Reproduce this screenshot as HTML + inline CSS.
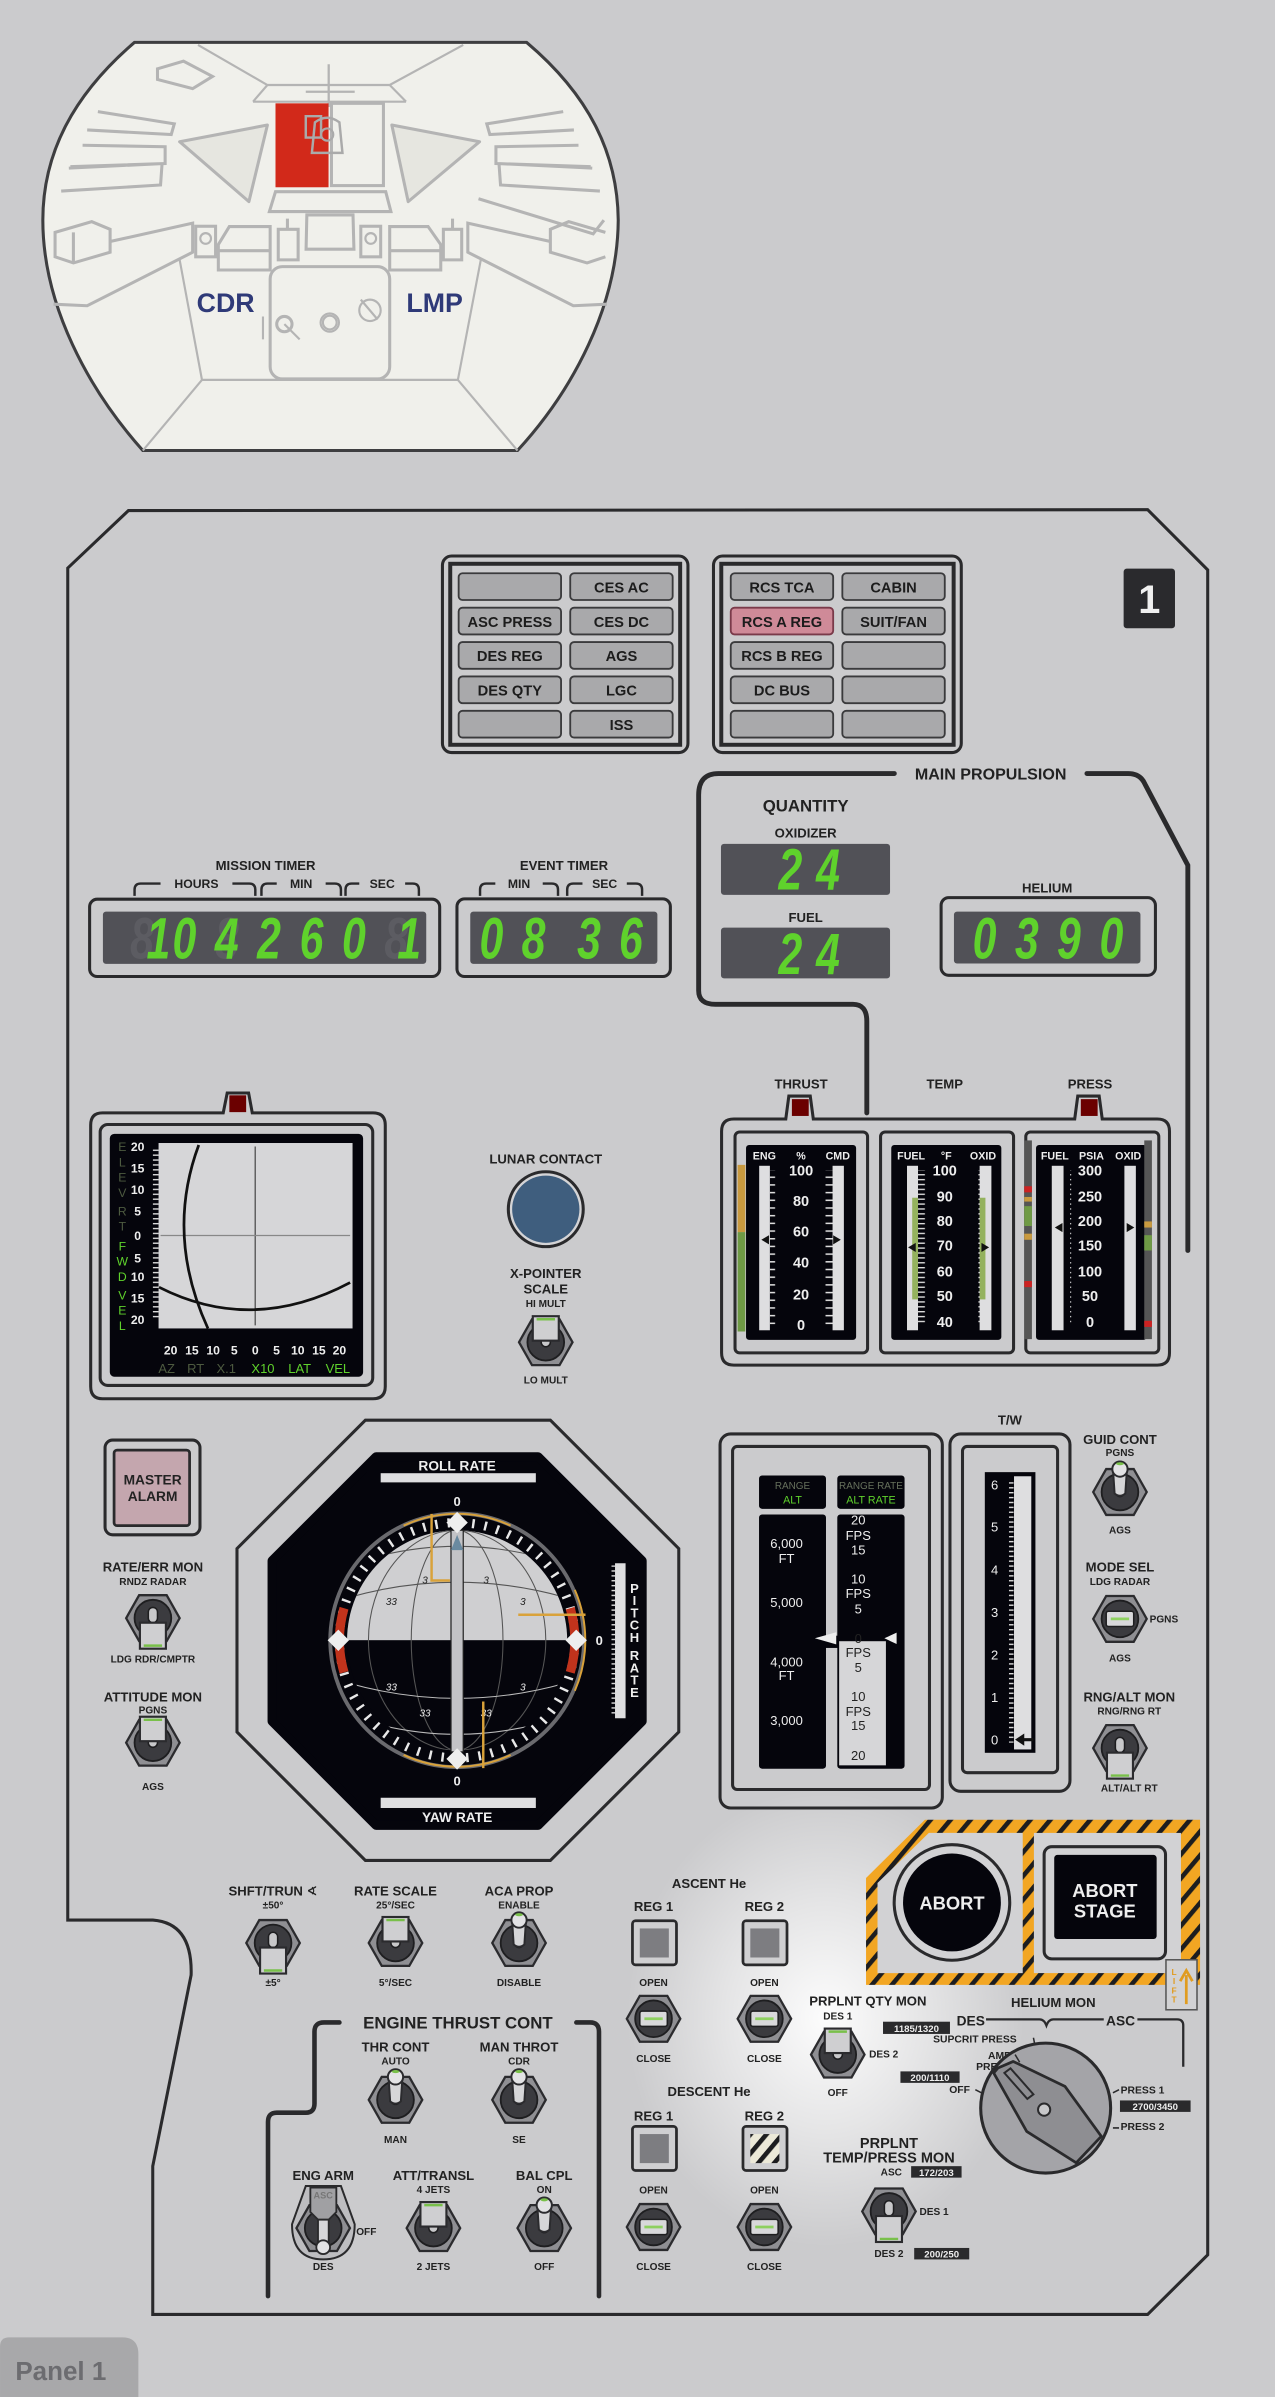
<!DOCTYPE html>
<html><head><meta charset="utf-8"><style>
html,body{margin:0;padding:0;background:#cbcbcd;}
svg{display:block;}
text{font-family:"Liberation Sans","DejaVu Sans",sans-serif;font-weight:bold;fill:#222;}
.l{font-size:8.6px;text-anchor:middle;}
.s{font-size:6.6px;text-anchor:middle;}
.b{font-size:9.6px;text-anchor:middle;fill:#1c1c1c;}
.w{fill:#eee;font-weight:bold;text-anchor:middle;}
.dg{font-family:"DejaVu Sans Mono","Liberation Mono",monospace;font-weight:normal;font-style:italic;}
.tag{font-size:6.3px;fill:#eee;text-anchor:middle;}
</style></head><body>
<svg width="1275" height="2397" viewBox="0 0 834 1568" xmlns="http://www.w3.org/2000/svg">
<defs>
 <radialGradient id="glow" cx="0.5" cy="0.5" r="0.5">
  <stop offset="0" stop-color="#ffffff" stop-opacity="0.95"/>
  <stop offset="0.5" stop-color="#ffffff" stop-opacity="0.5"/>
  <stop offset="1" stop-color="#ffffff" stop-opacity="0"/>
 </radialGradient>
 <pattern id="haz" width="10" height="10" patternUnits="userSpaceOnUse" patternTransform="rotate(40)">
  <rect width="10" height="10" fill="#f2a623"/><rect width="3" height="10" fill="#1d1d1f"/>
 </pattern>
 <pattern id="tk5" width="20" height="5.03" patternUnits="userSpaceOnUse" y="0">
  <rect x="0" y="0" width="7" height="1" fill="#ddd"/>
 </pattern>
 <pattern id="tkw" width="20" height="3.2" patternUnits="userSpaceOnUse">
  <rect x="0" y="0" width="5" height="0.9" fill="#ddd"/>
 </pattern>
 <pattern id="tkv" width="4" height="20" patternUnits="userSpaceOnUse">
  <rect x="0" y="0" width="0.9" height="5" fill="#eee"/>
 </pattern>
 <pattern id="stripe" width="8" height="8" patternUnits="userSpaceOnUse" patternTransform="rotate(40)">
  <rect width="8" height="8" fill="#ece9d8"/><rect width="3" height="8" fill="#1d1d1f"/>
 </pattern>
 <clipPath id="ball"><circle cx="299" cy="1073" r="72"/></clipPath>
 <g id="hex">
  <polygon points="-17.5,0 -9,-15 9,-15 17.5,0 9,15 -9,15" fill="#8f8f93" stroke="#2b2b2e" stroke-width="1.5"/>
  <circle r="12" fill="#3b3b3f" stroke="#1e1e20" stroke-width="1.2"/>
  <rect x="-3" y="-7" width="6" height="10" rx="3" fill="#c8c8ca" stroke="#1e1e20" stroke-width="1"/>
 </g>
 <g id="padU"><use href="#hex"/>
  <rect x="-8.5" y="-17" width="17" height="16" fill="#cfcfd1" stroke="#2b2b2e" stroke-width="1.4"/>
  <line x1="-6" y1="-15" x2="6" y2="-15" stroke="#79c04a" stroke-width="1.6"/></g>
 <g id="padD"><use href="#hex"/>
  <rect x="-8.5" y="3" width="17" height="17" fill="#cfcfd1" stroke="#2b2b2e" stroke-width="1.4"/>
  <line x1="-6" y1="18" x2="6" y2="18" stroke="#79c04a" stroke-width="1.6"/></g>
 <g id="bat"><use href="#hex"/>
  <path d="M-4.5,-14 L-3.5,1 Q0,4 3.5,1 L4.5,-14 Z" fill="#d6d6d8" stroke="#2b2b2e" stroke-width="1.3"/>
  <circle cy="-15" r="5" fill="#e3e3e5" stroke="#2b2b2e" stroke-width="1.3"/>
  <ellipse cy="-18.5" rx="2.5" ry="1" fill="#79c04a"/></g>
 <g id="rot">
  <polygon points="-17.5,0 -9,-15 9,-15 17.5,0 9,15 -9,15" fill="#8f8f93" stroke="#2b2b2e" stroke-width="1.5"/>
  <circle r="12" fill="#3b3b3f" stroke="#1e1e20" stroke-width="1.2"/>
  <rect x="-9" y="-5" width="18" height="10" rx="1.5" fill="#d8d8da" stroke="#1e1e20" stroke-width="1"/>
  <line x1="-6" y1="0" x2="6" y2="0" stroke="#8ed060" stroke-width="1.8"/></g>
</defs>

<rect width="834" height="1568" fill="#cbcbcd"/>

<!-- COCKPIT ILLUSTRATION -->
<path d="M88,27.7 L344.4,27.7 C385,62 404,100 404.4,144 C404,200 375,255 338.5,294.7 L93.4,294.7 C58,255 28,200 28,144 C28,100 48,62 88,27.7 Z" fill="#f0f0eb" stroke="#3e3e40" stroke-width="2"/>
<g fill="none" stroke="#b4b4b4" stroke-width="1.4">
 <path d="M129.5,29.4 L174.9,55.6 L254.9,55.6 L303,29.4"/>
 <path d="M165.5,66.5 L174.9,55.6 M265.6,66.5 L254.9,55.6 M165.5,66.5 L265.6,66.5"/>
 <path d="M117.5,170 L132.1,248.5 L299.5,248.5 L314.5,170"/>
 <path d="M132.1,248.5 L93.4,294.7 M299.5,248.5 L338.5,294.7"/>
 <path d="M117.5,92.7 L174.9,81.8 L162.8,131.9 Z" fill="#e6e6e0" stroke-width="2" stroke-linejoin="round"/>
 <path d="M256.3,81.8 L313.7,92.7 L267,131.9 Z" fill="#e6e6e0" stroke-width="2" stroke-linejoin="round"/>
 <rect x="176.7" y="174.4" width="78.2" height="73.5" rx="8" stroke-width="2"/>
 <path d="M180.2,125.4 L252.3,125.4 L255.7,138.4 L176.2,138.4 Z" stroke-width="2"/>
 <path d="M200.7,140.6 L230.9,140.6 L231.5,163 L200.2,163 Z" stroke-width="2"/>
 <path d="M142.8,176.6 L142.8,160 L150,148.2 L176.7,148.2 L176.7,176.6 Z M142.8,164 L176.7,164" stroke-width="2"/>
 <path d="M254.9,176.6 L254.9,148.2 L280,148.2 L288.3,160 L288.3,176.6 Z M254.9,164 L288.3,164" stroke-width="2"/>
 <rect x="128" y="148" width="13" height="20" stroke-width="2"/><circle cx="134.5" cy="156" r="3.5"/>
 <rect x="236" y="148" width="13" height="20" stroke-width="2"/><circle cx="242.5" cy="156" r="3.5"/>
 <path d="M182,150 L195,150 L195,170 L182,170 Z M188,150 L188,143" stroke-width="2"/>
 <path d="M290,150 L302,150 L302,170 L290,170 Z M296,150 L296,143" stroke-width="2"/>
 <path d="M64,73 L114,81 L112,88 L57,85 M54,95 L108,96 L108,107 L46,109 M45,110 L106,107 L105,121 L40,125" stroke-width="2"/>
 <path d="M368.4,73 L318.4,81 L320.4,88 L375.4,85 M378.4,95 L324.4,96 L324.4,107 L386.4,109 M387.4,110 L326.4,107 L327.4,121 L392.4,125" stroke-width="2"/>
 <path d="M36,152 L60,145 L72,150 L72,165 L48,172 L36,168 Z M48,152 L48,172 M72,158 L126,146 L126,165 L57,200 L35,199" stroke-width="2"/>
 <path d="M396,152 L372,145 L360,150 L360,165 L384,172 L396,168 M360,158 L306,146 L306,165 L375,200 L397,199 M313,130 L388,153 L395,144" stroke-width="2"/>
 <path d="M103,45 L120,40 L139,50 L126,58 L103,52 Z" stroke-width="2"/>
 <circle cx="186" cy="212" r="5" stroke-width="2"/><path d="M186,212 L196,222 M172,207 L172,222"/>
 <circle cx="215.7" cy="211" r="6"/><circle cx="215.7" cy="211" r="4.5"/>
 <circle cx="242" cy="203" r="7"/><path d="M236,196 L247,209"/>
 <path d="M215,42 L215,70 M200,60 L232,60" stroke-width="1.5"/>
</g>
<rect x="180.2" y="67.6" width="34.7" height="54.9" fill="#d2291a"/>
<rect x="216.8" y="67.6" width="34" height="53.8" fill="none" stroke="#b4b4b4" stroke-width="2"/>
<path d="M204,100 L206,80 Q214,74 222,80 L224,100 Z M200,76 L210,76 L210,90 L200,90 Z" fill="none" stroke="#aaa" stroke-width="1.6"/>
<circle cx="214" cy="88" r="4" fill="none" stroke="#aaa" stroke-width="1.4"/>
<text x="147.6" y="204" style="font-size:17.5px;fill:#2f3a78;text-anchor:middle">CDR</text>
<text x="284.3" y="204" style="font-size:17.5px;fill:#2f3a78;text-anchor:middle">LMP</text>

<!-- PANEL OUTLINE -->
<ellipse cx="540" cy="1320" rx="130" ry="150" fill="url(#glow)"/>
<path d="M44.3,371.6 L84,334 L750.7,333.4 L790,372.8 L790,1475 L750.7,1514 L99.9,1514 L99.9,1417 L125,1292 Q126,1258 100,1256 L44.3,1256 Z" fill="none" stroke="#2a2a2c" stroke-width="2"/>
<path d="M0,1568 L0,1535 Q0,1529 6,1529 L80,1529 Q90.5,1529 90.5,1540 L90.5,1568 Z" fill="#a8a8aa"/>
<text x="10" y="1557" style="font-size:17px;fill:#6c6c70">Panel 1</text>

<!-- CAUTION / WARNING PANELS -->
<g stroke="#2a2a2c" fill="none">
 <rect x="289.4" y="363.7" width="160.6" height="128.6" rx="6" stroke-width="2"/>
 <rect x="294.5" y="368.8" width="150.4" height="118.4" stroke-width="2.6"/>
 <rect x="466.7" y="363.7" width="162.1" height="128.6" rx="6" stroke-width="2"/>
 <rect x="471.8" y="368.8" width="152" height="118.4" stroke-width="2.6"/>
</g>
<g fill="#a9a9ab" stroke="#3a3a3c" stroke-width="1.2">
 <rect x="300" y="375" width="67" height="17.5" rx="2.5"/><rect x="373" y="375" width="67" height="17.5" rx="2.5"/>
 <rect x="300" y="397.5" width="67" height="17.5" rx="2.5"/><rect x="373" y="397.5" width="67" height="17.5" rx="2.5"/>
 <rect x="300" y="420" width="67" height="17.5" rx="2.5"/><rect x="373" y="420" width="67" height="17.5" rx="2.5"/>
 <rect x="300" y="442.5" width="67" height="17.5" rx="2.5"/><rect x="373" y="442.5" width="67" height="17.5" rx="2.5"/>
 <rect x="300" y="465" width="67" height="17.5" rx="2.5"/><rect x="373" y="465" width="67" height="17.5" rx="2.5"/>
 <rect x="478" y="375" width="67" height="17.5" rx="2.5"/><rect x="551" y="375" width="67" height="17.5" rx="2.5"/>
 <rect x="478" y="397.5" width="67" height="17.5" rx="2.5" fill="#cf8a98" stroke="#7a3a4a"/><rect x="551" y="397.5" width="67" height="17.5" rx="2.5"/>
 <rect x="478" y="420" width="67" height="17.5" rx="2.5"/><rect x="551" y="420" width="67" height="17.5" rx="2.5"/>
 <rect x="478" y="442.5" width="67" height="17.5" rx="2.5"/><rect x="551" y="442.5" width="67" height="17.5" rx="2.5"/>
 <rect x="478" y="465" width="67" height="17.5" rx="2.5"/><rect x="551" y="465" width="67" height="17.5" rx="2.5"/>
</g>
<g class="b">
 <text x="406.5" y="387.5" class="b">CES AC</text>
 <text x="333.5" y="410" class="b">ASC PRESS</text><text x="406.5" y="410" class="b">CES DC</text>
 <text x="333.5" y="432.5" class="b">DES REG</text><text x="406.5" y="432.5" class="b">AGS</text>
 <text x="333.5" y="455" class="b">DES QTY</text><text x="406.5" y="455" class="b">LGC</text>
 <text x="406.5" y="477.5" class="b">ISS</text>
 <text x="511.5" y="387.5" class="b">RCS TCA</text><text x="584.5" y="387.5" class="b">CABIN</text>
 <text x="511.5" y="410" class="b">RCS A REG</text><text x="584.5" y="410" class="b">SUIT/FAN</text>
 <text x="511.5" y="432.5" class="b">RCS B REG</text>
 <text x="511.5" y="455" class="b">DC BUS</text>
</g>
<rect x="735" y="372" width="33.6" height="39" rx="2" fill="#2a2a2d"/>
<text x="751.8" y="401" style="font-size:26px;fill:#f0f0f0;text-anchor:middle">1</text>

<!-- MAIN PROPULSION BRACKET -->
<path d="M585,506 L470,506 Q457,506 457,520 L457,648 Q457,657 468,657 L558,657 Q567,657 567,668 L567,728" fill="none" stroke="#2a2a2c" stroke-width="3.2" stroke-linecap="round"/>
<path d="M711,506 L738,506 Q746,506 749,513 L777,566 L777,818" fill="none" stroke="#2a2a2c" stroke-width="3.2" stroke-linecap="round"/>
<text x="648" y="510" class="l" style="font-size:10.5px">MAIN PROPULSION</text>
<text x="527" y="531" class="l" style="font-size:11px">QUANTITY</text>
<text x="527" y="548" class="l" style="font-size:8.6px">OXIDIZER</text>
<text x="527" y="603" class="l" style="font-size:8.6px">FUEL</text>
<text x="685" y="584" class="l">HELIUM</text>

<!-- DISPLAYS -->
<rect x="58.6" y="588.2" width="229" height="50.6" rx="5" fill="none" stroke="#2a2a2c" stroke-width="2"/>
<rect x="67.3" y="596.3" width="211.5" height="34.2" rx="2" fill="#515157"/>
<rect x="298.9" y="588" width="139.6" height="50.8" rx="5" fill="none" stroke="#2a2a2c" stroke-width="2"/>
<rect x="307.6" y="596.3" width="122.4" height="34.2" rx="2" fill="#515157"/>
<rect x="471.6" y="552" width="110.6" height="33.4" rx="2" fill="#515157"/>
<rect x="471.6" y="606.8" width="110.6" height="33.2" rx="2" fill="#515157"/>
<rect x="615.6" y="587.2" width="140.2" height="50.8" rx="5" fill="none" stroke="#2a2a2c" stroke-width="2"/>
<rect x="624" y="596.3" width="122" height="34" rx="2" fill="#515157"/>
<g class="dg" style="font-size:40px;text-anchor:middle">
 <text transform="translate(92.9,627) scale(0.7,0.95)" style="fill:#5c5c62">8</text>
 <text transform="translate(148.3,627) scale(0.7,0.95)" style="fill:#5c5c62">8</text>
 <text transform="translate(259.2,627) scale(0.7,0.95)" style="fill:#5c5c62">8</text>
 <text transform="translate(103.6,627) scale(0.7,0.95)" style="fill:#5fd22c">1</text>
 <text transform="translate(120.6,627) scale(0.7,0.95)" style="fill:#5fd22c">0</text>
 <text transform="translate(148.3,627) scale(0.7,0.95)" style="fill:#5fd22c">4</text>
 <text transform="translate(176,627) scale(0.7,0.95)" style="fill:#5fd22c">2</text>
 <text transform="translate(203.8,627) scale(0.7,0.95)" style="fill:#5fd22c">6</text>
 <text transform="translate(231.5,627) scale(0.7,0.95)" style="fill:#5fd22c">0</text>
 <text transform="translate(267.6,627) scale(0.7,0.95)" style="fill:#5fd22c">1</text>
 <text transform="translate(321.4,627) scale(0.7,0.95)" style="fill:#5fd22c">0</text>
 <text transform="translate(349,627) scale(0.7,0.95)" style="fill:#5fd22c">8</text>
 <text transform="translate(385.3,627) scale(0.7,0.95)" style="fill:#5fd22c">3</text>
 <text transform="translate(412.7,627) scale(0.7,0.95)" style="fill:#5fd22c">6</text>
 <text transform="translate(517,582) scale(0.7,0.95)" style="fill:#5fd22c">2</text>
 <text transform="translate(541.6,582) scale(0.7,0.95)" style="fill:#5fd22c">4</text>
 <text transform="translate(517,637) scale(0.7,0.95)" style="fill:#5fd22c">2</text>
 <text transform="translate(541.6,637) scale(0.7,0.95)" style="fill:#5fd22c">4</text>
 <text transform="translate(644,627) scale(0.7,0.95)" style="fill:#5fd22c">0</text>
 <text transform="translate(671.7,627) scale(0.7,0.95)" style="fill:#5fd22c">3</text>
 <text transform="translate(699.2,627) scale(0.7,0.95)" style="fill:#5fd22c">9</text>
 <text transform="translate(727,627) scale(0.7,0.95)" style="fill:#5fd22c">0</text>
</g>
<text x="173.7" y="569" class="l">MISSION TIMER</text>
<text x="368.9" y="569" class="l">EVENT TIMER</text>
<g fill="none" stroke="#2a2a2c" stroke-width="1.6">
 <path d="M88,586 L88,582 Q88,578 92,578 L105,578 M152,578 L163,578 Q167,578 167,582 L167,586"/>
 <path d="M171,586 L171,582 Q171,578 175,578 L181,578 M213,578 L219,578 Q223,578 223,582 L223,586"/>
 <path d="M226,586 L226,582 Q226,578 230,578 L235,578 M265,578 L270,578 Q274,578 274,582 L274,586"/>
 <path d="M314,586 L314,582 Q314,578 318,578 L324,578 M355,578 L361,578 Q365,578 365,582 L365,586"/>
 <path d="M371,586 L371,582 Q371,578 375,578 L381,578 M410,578 L416,578 Q420,578 420,582 L420,586"/>
</g>
<text x="128.5" y="581" class="s" style="font-size:8px">HOURS</text>
<text x="197" y="581" class="s" style="font-size:8px">MIN</text>
<text x="250" y="581" class="s" style="font-size:8px">SEC</text>
<text x="339.5" y="581" class="s" style="font-size:8px">MIN</text>
<text x="395.5" y="581" class="s" style="font-size:8px">SEC</text>

<!-- THRUST / TEMP / PRESS -->
<text x="524" y="712" class="l">THRUST</text>
<text x="618" y="712" class="l">TEMP</text>
<text x="713" y="712" class="l">PRESS</text>
<path d="M472,740 Q472,732 480,732 L514,732 L516,717 L530,717 L532,732 L703,732 L705,717 L719,717 L721,732 L757,732 Q765,732 765,740 L765,885 Q765,893 757,893 L480,893 Q472,893 472,885 Z" fill="none" stroke="#2a2a2c" stroke-width="2"/>
<rect x="518" y="719" width="11" height="11" fill="#6b0000"/>
<rect x="707" y="719" width="11" height="11" fill="#6b0000"/>
<g fill="none" stroke="#2a2a2c" stroke-width="2">
 <rect x="480.8" y="740.5" width="86.7" height="144.5" rx="3"/>
 <rect x="576" y="740.5" width="87" height="144.5" rx="3"/>
 <rect x="671" y="740.5" width="87" height="144.5" rx="3"/>
</g>
<rect x="488" y="749" width="72" height="127.5" rx="2" fill="#05050c"/>
<rect x="583" y="749" width="72" height="127.5" rx="2" fill="#05050c"/>
<rect x="677.7" y="749" width="72.3" height="127.5" rx="2" fill="#05050c"/>
<rect x="482.5" y="762" width="5" height="44" fill="#c99a3f"/><rect x="482.5" y="806" width="5" height="65" fill="#6f9a45"/>
<rect x="670" y="746" width="5" height="130" fill="#555"/><rect x="748.5" y="746" width="5" height="130" fill="#555"/>
<rect x="670" y="776" width="5" height="4" fill="#c22"/><rect x="670" y="783" width="5" height="3" fill="#c99a3f"/><rect x="670" y="789" width="5" height="13" fill="#6f9a45"/><rect x="670" y="807" width="5" height="4" fill="#c99a3f"/><rect x="670" y="838" width="5" height="4" fill="#c22"/>
<rect x="748.5" y="799" width="5" height="4" fill="#c99a3f"/><rect x="748.5" y="808" width="5" height="10" fill="#6f9a45"/><rect x="748.5" y="864" width="5" height="4" fill="#c22"/>
<g fill="#dedee0">
 <rect x="496.6" y="762.6" width="7" height="107.6"/><rect x="544.6" y="762.6" width="7.4" height="107.6"/>
 <rect x="593.3" y="762.6" width="7.2" height="107.6"/><rect x="640.8" y="762.6" width="7.7" height="107.6"/>
 <rect x="688" y="762.6" width="7.7" height="107.6"/><rect x="735.5" y="762.6" width="7.5" height="107.6"/>
</g>
<rect x="596.7" y="783.5" width="3.8" height="66.5" fill="#94b25e"/><rect x="640.8" y="783.5" width="3.8" height="66.5" fill="#94b25e"/>
<rect x="503.6" y="765.5" width="7" height="101" fill="url(#tk5)"/><rect x="538" y="765.5" width="7" height="101" fill="url(#tk5)"/>
<rect x="600.5" y="765.5" width="5" height="101" fill="url(#tkw)"/><rect x="636" y="765.5" width="5" height="101" fill="url(#tkw)"/>
<rect x="695.7" y="765.5" width="5" height="101" fill="url(#tkw)"/><rect x="730.5" y="765.5" width="5" height="101" fill="url(#tkw)"/>
<g class="w" style="font-size:9.5px">
 <text x="524" y="769" class="w">100</text><text x="524" y="789" class="w">80</text><text x="524" y="809" class="w">60</text><text x="524" y="829" class="w">40</text><text x="524" y="850" class="w">20</text><text x="524" y="870" class="w">0</text>
 <text x="618" y="769" class="w">100</text><text x="618" y="786" class="w">90</text><text x="618" y="802" class="w">80</text><text x="618" y="818" class="w">70</text><text x="618" y="835" class="w">60</text><text x="618" y="851" class="w">50</text><text x="618" y="868" class="w">40</text>
 <text x="713" y="769" class="w">300</text><text x="713" y="786" class="w">250</text><text x="713" y="802" class="w">200</text><text x="713" y="818" class="w">150</text><text x="713" y="835" class="w">100</text><text x="713" y="851" class="w">50</text><text x="713" y="868" class="w">0</text>
</g>
<g class="w" style="font-size:7px">
 <text x="500" y="758.5" class="w" style="font-size:7px">ENG</text><text x="524" y="758.5" class="w" style="font-size:7px">%</text><text x="548" y="758.5" class="w" style="font-size:7px">CMD</text>
 <text x="596" y="758.5" class="w" style="font-size:7px">FUEL</text><text x="619" y="758.5" class="w" style="font-size:7px">°F</text><text x="643" y="758.5" class="w" style="font-size:7px">OXID</text>
 <text x="690" y="758.5" class="w" style="font-size:7px">FUEL</text><text x="714" y="758.5" class="w" style="font-size:7px">PSIA</text><text x="738" y="758.5" class="w" style="font-size:7px">OXID</text>
</g>
<g fill="#111">
 <path d="M498,811 L503,808 L503,814 Z M550,811 L545,808 L545,814 Z"/>
 <path d="M594,816 L599,813 L599,819 Z M647,816 L642,813 L642,819 Z"/>
 <path d="M690,803 L695,800 L695,806 Z M742,803 L737,800 L737,806 Z"/>
</g>

<!-- X-POINTER -->
<path d="M59.3,736 Q59.3,728 67,728 L146,728 L148.6,715 L162.6,715 L165,728 L244,728 Q252,728 252,736 L252,907 Q252,915 244,915 L67,915 Q59.3,915 59.3,907 Z" fill="none" stroke="#2a2a2c" stroke-width="2"/>
<rect x="150" y="716.5" width="11" height="11" fill="#6b0000"/>
<rect x="65.5" y="735.6" width="178.3" height="170.7" rx="5" fill="none" stroke="#2a2a2c" stroke-width="2"/>
<rect x="71.8" y="741.7" width="165.7" height="158.9" rx="3" fill="#05050c"/>
<rect x="103.7" y="747.7" width="126.9" height="121.3" fill="#d6d6d8"/>
<line x1="166.9" y1="750" x2="166.9" y2="867" stroke="#333" stroke-width="0.7"/>
<line x1="105" y1="808.2" x2="229" y2="808.2" stroke="#888" stroke-width="0.8"/>
<path d="M130,749 Q108,808 136,869" fill="none" stroke="#111" stroke-width="1.8"/>
<path d="M104,842 Q165,873 229,839" fill="none" stroke="#111" stroke-width="1.8"/>
<rect x="98" y="750" width="5.7" height="112" fill="url(#tkw)"/>
<rect x="106" y="869" width="120" height="5" fill="url(#tkv)"/>
<g class="w" style="font-size:8px">
 <text x="90" y="753" class="w" style="font-size:8px">20</text><text x="90" y="767" class="w" style="font-size:8px">15</text><text x="90" y="781" class="w" style="font-size:8px">10</text><text x="90" y="795" class="w" style="font-size:8px">5</text><text x="90" y="811" class="w" style="font-size:8px">0</text><text x="90" y="826" class="w" style="font-size:8px">5</text><text x="90" y="838" class="w" style="font-size:8px">10</text><text x="90" y="852" class="w" style="font-size:8px">15</text><text x="90" y="866" class="w" style="font-size:8px">20</text>
 <text x="111.6" y="886" class="w" style="font-size:8px">20</text><text x="125.5" y="886" class="w" style="font-size:8px">15</text><text x="139.4" y="886" class="w" style="font-size:8px">10</text><text x="153.2" y="886" class="w" style="font-size:8px">5</text><text x="167" y="886" class="w" style="font-size:8px">0</text><text x="180.9" y="886" class="w" style="font-size:8px">5</text><text x="194.8" y="886" class="w" style="font-size:8px">10</text><text x="208.6" y="886" class="w" style="font-size:8px">15</text><text x="222" y="886" class="w" style="font-size:8px">20</text>
</g>
<g style="font-size:8.5px;font-weight:normal;text-anchor:middle">
 <text x="109" y="898" style="fill:#4d5a40;font-weight:normal;text-anchor:middle">AZ</text>
 <text x="128" y="898" style="fill:#4d5a40;font-weight:normal;text-anchor:middle">RT</text>
 <text x="148" y="898" style="fill:#4d5a40;font-weight:normal;text-anchor:middle">X.1</text>
 <text x="172" y="898" style="fill:#5fd22c;font-weight:normal;text-anchor:middle">X10</text>
 <text x="196" y="898" style="fill:#5fd22c;font-weight:normal;text-anchor:middle">LAT</text>
 <text x="221" y="898" style="fill:#5fd22c;font-weight:normal;text-anchor:middle">VEL</text>
</g>
<g style="font-size:8px;font-weight:normal;text-anchor:middle">
 <text x="80" y="753" style="fill:#4d5a40;font-weight:normal;text-anchor:middle">E</text><text x="80" y="763" style="fill:#4d5a40;font-weight:normal;text-anchor:middle">L</text><text x="80" y="773" style="fill:#4d5a40;font-weight:normal;text-anchor:middle">E</text><text x="80" y="783" style="fill:#4d5a40;font-weight:normal;text-anchor:middle">V</text><text x="80" y="795" style="fill:#4d5a40;font-weight:normal;text-anchor:middle">R</text><text x="80" y="805" style="fill:#4d5a40;font-weight:normal;text-anchor:middle">T</text>
 <text x="80" y="818" style="fill:#5fd22c;font-weight:normal;text-anchor:middle">F</text><text x="80" y="828" style="fill:#5fd22c;font-weight:normal;text-anchor:middle">W</text><text x="80" y="838" style="fill:#5fd22c;font-weight:normal;text-anchor:middle">D</text><text x="80" y="850" style="fill:#5fd22c;font-weight:normal;text-anchor:middle">V</text><text x="80" y="860" style="fill:#5fd22c;font-weight:normal;text-anchor:middle">E</text><text x="80" y="870" style="fill:#5fd22c;font-weight:normal;text-anchor:middle">L</text>
</g>

<text x="357" y="761" class="l">LUNAR CONTACT</text>
<circle cx="357" cy="791" r="24.5" fill="#d4d4d6" stroke="#2a2a2c" stroke-width="2"/>
<circle cx="357" cy="791" r="22" fill="#3f5e7e"/>
<text x="357" y="836" class="l">X-POINTER</text>
<text x="357" y="846" class="l">SCALE</text>
<text x="357" y="855" class="s">HI MULT</text>
<use href="#padU" x="357" y="878"/>
<text x="357" y="905" class="s">LO MULT</text>

<!-- LEFT COLUMN -->
<rect x="68.7" y="942" width="62.1" height="62" rx="5" fill="none" stroke="#2a2a2c" stroke-width="2"/>
<rect x="74.6" y="948.6" width="49.4" height="49.4" rx="2" fill="#c4a6ae" stroke="#2a2a2c" stroke-width="1.8"/>
<text x="99.8" y="971" class="l" style="font-size:9px">MASTER</text>
<text x="99.8" y="982" class="l" style="font-size:9px">ALARM</text>
<text x="100" y="1028" class="l">RATE/ERR MON</text>
<text x="100" y="1037" class="s">RNDZ RADAR</text>
<use href="#padD" x="100" y="1058.5"/>
<text x="100" y="1087.5" class="s">LDG RDR/CMPTR</text>
<text x="100" y="1113" class="l">ATTITUDE MON</text>
<text x="100" y="1121" class="s">PGNS</text>
<use href="#padU" x="100" y="1140"/>
<text x="100" y="1171" class="s">AGS</text>

<!-- FDAI -->
<polygon points="239,929 360,929 444,1013 444,1133 360,1217 239,1217 155,1133 155,1013" fill="#cbcbcd" stroke="#2a2a2c" stroke-width="2"/>
<polygon points="246,953 352,953 420,1021 420,1126 352,1194 246,1194 178,1126 178,1021" fill="#05050c" stroke="#05050c" stroke-width="6" stroke-linejoin="round"/>
<g clip-path="url(#ball)">
 <rect x="220" y="995" width="160" height="78" fill="#cfcfd1"/>
 <rect x="220" y="1073" width="160" height="80" fill="#05050c"/>
 <g fill="none" stroke="#555" stroke-width="0.7">
  <ellipse cx="299" cy="1073" rx="30" ry="72"/><ellipse cx="299" cy="1073" rx="58" ry="72"/>
  <path d="M228,1045 Q299,1025 370,1045 M230,1023 Q299,1000 368,1023"/>
 </g>
 <g fill="none" stroke="#bbb" stroke-width="0.7">
  <path d="M228,1101 Q299,1121 370,1101 M230,1123 Q299,1146 368,1123"/>
 </g>
 <g style="font-size:6.5px;font-style:italic;font-weight:normal;text-anchor:middle">
  <text x="278" y="1036" style="fill:#222;font-weight:normal">3</text><text x="318" y="1036" style="fill:#222;font-weight:normal">3</text>
  <text x="256" y="1050" style="fill:#222;font-weight:normal">33</text><text x="342" y="1050" style="fill:#222;font-weight:normal">3</text>
  <text x="240" y="1027" style="fill:#222;font-weight:normal">33</text><text x="356" y="1027" style="fill:#222;font-weight:normal">3</text>
  <text x="256" y="1106" style="fill:#eee;font-weight:normal">33</text><text x="342" y="1106" style="fill:#eee;font-weight:normal">3</text>
  <text x="278" y="1123" style="fill:#eee;font-weight:normal">33</text><text x="318" y="1123" style="fill:#eee;font-weight:normal">33</text>
  <text x="240" y="1124" style="fill:#eee;font-weight:normal">33</text><text x="358" y="1124" style="fill:#eee;font-weight:normal">33</text>
 </g>
</g>
<circle cx="299" cy="1073" r="83" fill="none" stroke="#6a6a6e" stroke-width="2.5"/>
<circle cx="299" cy="1073" r="77" fill="none" stroke="#e8e8e8" stroke-width="6" stroke-dasharray="1.6 6.5"/>
<path d="M225,1052 A76,76 0 0,0 225,1094" fill="none" stroke="#c1331c" stroke-width="6"/>
<path d="M373,1052 A76,76 0 0,1 373,1094" fill="none" stroke="#c1331c" stroke-width="6"/>
<path d="M264,998 A83,83 0 0,1 334,998 M264,1148 A83,83 0 0,0 334,1148 M376,1040 A83,83 0 0,1 376,1106" fill="none" stroke="#d9a23a" stroke-width="1.3"/>
<rect x="295" y="1001" width="8" height="145" fill="#c3c3c6" stroke="#222" stroke-width="0.8"/>
<path d="M299,1004 L295,1014 L303,1014 Z" fill="#6a8aa0"/>
<g fill="none" stroke="#d9a23a" stroke-width="1.6">
 <path d="M282.3,990.3 L282.3,1033.9 L294.3,1033.9"/>
 <path d="M339,1056.3 L383,1056.3"/>
 <path d="M316.1,1113 L316.1,1156.6"/>
</g>
<g fill="#eee">
 <path d="M299,989 L306,996 L299,1003 L292,996 Z"/>
 <path d="M299,1143.6 L306,1150.6 L299,1157.6 L292,1150.6 Z"/>
 <path d="M214.3,1073 L221.3,1066 L228.3,1073 L221.3,1080 Z"/>
 <path d="M369.9,1073 L376.9,1066 L383.9,1073 L376.9,1080 Z"/>
</g>
<text x="299" y="962" class="w" style="font-size:9px">ROLL RATE</text>
<rect x="249" y="963.7" width="101.5" height="6" fill="#dedee0"/>
<rect x="251" y="969" width="98" height="6" fill="url(#tkv)"/>
<text x="299" y="985" class="w" style="font-size:8.5px">0</text>
<text x="299" y="1168" class="w" style="font-size:8.5px">0</text>
<rect x="251" y="1170" width="98" height="6" fill="url(#tkv)"/>
<rect x="249" y="1176" width="101.5" height="6.7" fill="#dedee0"/>
<text x="299" y="1192" class="w" style="font-size:9px">YAW RATE</text>
<rect x="402.3" y="1022.6" width="6.9" height="101.4" fill="#dedee0"/>
<rect x="397.5" y="1024" width="5" height="99" fill="url(#tkw)"/>
<text x="392" y="1076" class="w" style="font-size:8.5px">0</text>
<g class="w" style="font-size:8.5px">
 <text x="415" y="1042" class="w" style="font-size:8.5px">P</text><text x="415" y="1050" class="w" style="font-size:8.5px">I</text><text x="415" y="1058" class="w" style="font-size:8.5px">T</text><text x="415" y="1066" class="w" style="font-size:8.5px">C</text><text x="415" y="1074" class="w" style="font-size:8.5px">H</text>
 <text x="415" y="1086" class="w" style="font-size:8.5px">R</text><text x="415" y="1094" class="w" style="font-size:8.5px">A</text><text x="415" y="1102" class="w" style="font-size:8.5px">T</text><text x="415" y="1110" class="w" style="font-size:8.5px">E</text>
</g>

<!-- RANGE / ALT -->
<rect x="471" y="938" width="145.4" height="244.7" rx="7" fill="none" stroke="#2a2a2c" stroke-width="2"/>
<rect x="479.2" y="946.2" width="128.8" height="224.4" rx="3" fill="none" stroke="#2a2a2c" stroke-width="2"/>
<rect x="496.5" y="965.2" width="43.8" height="21.8" rx="2" fill="#05050c"/>
<rect x="547.7" y="965.2" width="44" height="21.8" rx="2" fill="#05050c"/>
<rect x="496.5" y="990.7" width="43.8" height="166.3" rx="2" fill="#05050c"/>
<rect x="547.7" y="990.7" width="44" height="166.3" rx="2" fill="#05050c"/>
<rect x="540" y="1070" width="8" height="8" fill="#05050c"/>
<rect x="548.9" y="1073.6" width="30.6" height="81.2" fill="#d6d6d8"/>
<text x="518.4" y="974" style="font-size:6.5px;fill:#66705c;text-anchor:middle;font-weight:normal">RANGE</text>
<text x="518.4" y="983.5" style="font-size:7px;fill:#5fd22c;text-anchor:middle;font-weight:normal">ALT</text>
<text x="569.7" y="974" style="font-size:6.5px;fill:#66705c;text-anchor:middle;font-weight:normal">RANGE RATE</text>
<text x="569.7" y="983.5" style="font-size:7px;fill:#5fd22c;text-anchor:middle;font-weight:normal">ALT RATE</text>
<rect x="532" y="994" width="4.5" height="160" fill="url(#tkw)"/>
<rect x="572.7" y="994" width="4.6" height="160" fill="url(#tkw)"/>
<g style="font-size:8.5px;font-weight:normal;text-anchor:middle">
 <text x="514.5" y="1012.5" style="fill:#eee;font-weight:normal">6,000</text><text x="514.5" y="1022.3" style="fill:#eee;font-weight:normal">FT</text>
 <text x="514.5" y="1051.3" style="fill:#eee;font-weight:normal">5,000</text>
 <text x="514.5" y="1090" style="fill:#eee;font-weight:normal">4,000</text><text x="514.5" y="1099" style="fill:#eee;font-weight:normal">FT</text>
 <text x="514.5" y="1128.5" style="fill:#eee;font-weight:normal">3,000</text>
 <text x="561.4" y="997.3" style="fill:#eee;font-weight:normal">20</text><text x="561.4" y="1007.5" style="fill:#eee;font-weight:normal">FPS</text><text x="561.4" y="1016.9" style="fill:#eee;font-weight:normal">15</text>
 <text x="561.4" y="1036" style="fill:#eee;font-weight:normal">10</text><text x="561.4" y="1045.3" style="fill:#eee;font-weight:normal">FPS</text><text x="561.4" y="1055.5" style="fill:#eee;font-weight:normal">5</text>
 <text x="561.4" y="1074.7" style="fill:#222;font-weight:normal">0</text><text x="561.4" y="1084" style="fill:#222;font-weight:normal">FPS</text><text x="561.4" y="1093.8" style="fill:#222;font-weight:normal">5</text>
 <text x="561.4" y="1112.8" style="fill:#222;font-weight:normal">10</text><text x="561.4" y="1122.6" style="fill:#222;font-weight:normal">FPS</text><text x="561.4" y="1131.8" style="fill:#222;font-weight:normal">15</text>
 <text x="561.4" y="1151.4" style="fill:#222;font-weight:normal">20</text>
</g>
<path d="M533,1071.7 L547,1067.7 L547,1075.7 Z M578.5,1071.7 L586.5,1068 L586.5,1075.4 Z" fill="#eee"/>

<!-- T/W -->
<text x="660.6" y="932" class="l">T/W</text>
<rect x="621.4" y="938" width="78.5" height="233.8" rx="7" fill="none" stroke="#2a2a2c" stroke-width="2"/>
<rect x="629.6" y="946.2" width="62.2" height="213.4" rx="3" fill="none" stroke="#2a2a2c" stroke-width="2"/>
<rect x="644.2" y="963" width="33.1" height="183.6" fill="#05050c"/>
<rect x="663.3" y="965.7" width="11.3" height="178.7" fill="#dedee0"/>
<rect x="657" y="968" width="6" height="172" fill="url(#tkw)"/>
<g style="font-size:8.5px;font-weight:normal;text-anchor:middle">
 <text x="650.6" y="974.3" style="fill:#eee;font-weight:normal">6</text><text x="650.6" y="1002" style="fill:#eee;font-weight:normal">5</text><text x="650.6" y="1030" style="fill:#eee;font-weight:normal">4</text><text x="650.6" y="1057.8" style="fill:#eee;font-weight:normal">3</text><text x="650.6" y="1085.5" style="fill:#eee;font-weight:normal">2</text><text x="650.6" y="1113.3" style="fill:#eee;font-weight:normal">1</text><text x="650.6" y="1141.2" style="fill:#eee;font-weight:normal">0</text>
</g>
<path d="M664,1138 L670,1134 L670,1137 L676,1137 L676,1139 L670,1139 L670,1142 Z" fill="#111"/>
<text x="732.6" y="944.5" class="l">GUID CONT</text>
<text x="732.6" y="952.5" class="s">PGNS</text>
<use href="#bat" x="732.6" y="976"/>
<text x="732.6" y="1003" class="s">AGS</text>
<text x="732.6" y="1028" class="l">MODE SEL</text>
<text x="732.6" y="1037" class="s">LDG RADAR</text>
<use href="#rot" x="732.6" y="1059"/>
<text x="752" y="1061.5" class="s" style="text-anchor:start">PGNS</text>
<text x="732.6" y="1087" class="s">AGS</text>
<text x="738.7" y="1113" class="l">RNG/ALT MON</text>
<text x="738.7" y="1121.5" class="s">RNG/RNG RT</text>
<use href="#padD" x="732.6" y="1143.5"/>
<text x="738.7" y="1172" class="s">ALT/ALT RT</text>

<!-- ABORT -->
<polygon points="566.5,1228.5 605,1190.4 785,1190.4 785,1298.4 566.5,1298.4" fill="url(#haz)"/>
<polygon points="574,1231.8 607.6,1199 669,1199 669,1290.7 574,1290.7" fill="#d2d2d4"/>
<rect x="676.3" y="1199" width="96.2" height="91.7" fill="#d2d2d4"/>
<rect x="762.7" y="1282" width="20.3" height="32.7" fill="#d2d2d4" stroke="#555" stroke-width="1"/>
<path d="M776,1311 L776,1292 M772,1296 L776,1289 L780,1296" fill="none" stroke="#e09c20" stroke-width="1.8"/>
<g style="font-size:5.5px;fill:#e09c20;text-anchor:middle">
 <text x="768" y="1292" style="fill:#e09c20">L</text><text x="768" y="1298" style="fill:#e09c20">I</text><text x="768" y="1304" style="fill:#e09c20">F</text><text x="768" y="1310" style="fill:#e09c20">T</text>
</g>
<circle cx="622.7" cy="1244.5" r="37.8" fill="#d2d2d4" stroke="#2a2a2c" stroke-width="2"/>
<circle cx="622.7" cy="1244.5" r="32" fill="#05050c"/>
<text x="622.7" y="1249" class="w" style="font-size:12px">ABORT</text>
<rect x="683" y="1208" width="79.4" height="73.4" rx="5" fill="#d2d2d4" stroke="#2a2a2c" stroke-width="2"/>
<rect x="689.6" y="1213.4" width="67" height="55" rx="2" fill="#05050c"/>
<text x="722.7" y="1241" class="w" style="font-size:12px">ABORT</text>
<text x="722.7" y="1254.5" class="w" style="font-size:12px">STAGE</text>

<!-- BOTTOM LEFT SWITCHES -->
<text x="178.6" y="1240" class="l">SHFT/TRUN ∢</text>
<text x="178.6" y="1248.5" class="s">±50°</text>
<use href="#padD" x="178.6" y="1271"/>
<text x="178.6" y="1299" class="s">±5°</text>
<text x="258.7" y="1240" class="l">RATE SCALE</text>
<text x="258.7" y="1248.5" class="s">25°/SEC</text>
<use href="#padU" x="258.7" y="1271"/>
<text x="258.7" y="1299" class="s">5°/SEC</text>
<text x="339.5" y="1240" class="l">ACA PROP</text>
<text x="339.5" y="1248.5" class="s">ENABLE</text>
<use href="#bat" x="339.5" y="1271"/>
<text x="339.5" y="1299" class="s">DISABLE</text>

<path d="M175.3,1502 L175.3,1388 Q175.3,1382 181,1382 L200,1382 Q205.7,1382 205.7,1376 L205.7,1329 Q205.7,1323 212,1323 L222,1323 M377,1323 L386,1323 Q391.8,1323 391.8,1329 L391.8,1502" fill="none" stroke="#2a2a2c" stroke-width="3" stroke-linecap="round"/>
<text x="299.5" y="1327" class="l" style="font-size:11px">ENGINE THRUST CONT</text>
<text x="258.7" y="1342" class="l">THR CONT</text>
<text x="258.7" y="1350.5" class="s">AUTO</text>
<use href="#bat" x="258.7" y="1373.6"/>
<text x="258.7" y="1402" class="s">MAN</text>
<text x="339.5" y="1342" class="l">MAN THROT</text>
<text x="339.5" y="1350.5" class="s">CDR</text>
<use href="#bat" x="339.5" y="1373.6"/>
<text x="339.5" y="1402" class="s">SE</text>
<text x="211.4" y="1426" class="l">ENG ARM</text>
<path d="M200,1430 L223,1430 L232,1455 Q232,1478 211.4,1478 Q191,1478 191,1455 Z" fill="#bdbdc0" stroke="#2a2a2c" stroke-width="1.3"/>
<use href="#hex" x="211.4" y="1457.5"/>
<path d="M203,1431 L220,1431 L220,1447 L215,1452 L208,1452 L203,1447 Z" fill="#a0a0a3" stroke="#2a2a2c" stroke-width="1.2"/>
<text x="211.4" y="1438" style="font-size:6px;fill:#777;text-anchor:middle">ASC</text>
<rect x="208" y="1452" width="7" height="17" fill="#d6d6d8" stroke="#2a2a2c" stroke-width="1.2"/>
<circle cx="211.4" cy="1470" r="4.5" fill="#e3e3e5" stroke="#2a2a2c" stroke-width="1.2"/>
<text x="233" y="1462" class="s" style="text-anchor:start">OFF</text>
<text x="211.4" y="1485" class="s">DES</text>
<text x="283.5" y="1426" class="l">ATT/TRANSL</text>
<text x="283.5" y="1434.5" class="s">4 JETS</text>
<use href="#padU" x="283.5" y="1457.5"/>
<text x="283.5" y="1485" class="s">2 JETS</text>
<text x="356" y="1426" class="l">BAL CPL</text>
<text x="356" y="1434.5" class="s">ON</text>
<use href="#bat" x="356" y="1457.5"/>
<text x="356" y="1485" class="s">OFF</text>

<!-- HELIUM SECTION -->
<text x="463.8" y="1235" class="l">ASCENT He</text>
<text x="427.5" y="1250" class="l">REG 1</text><text x="500" y="1250" class="l">REG 2</text>
<rect x="413.7" y="1256.5" width="28.8" height="28.8" rx="2" fill="#cfcfd1" stroke="#2a2a2c" stroke-width="1.8"/>
<rect x="418.5" y="1261.5" width="19" height="19" fill="#7d7d81"/>
<rect x="486" y="1256.5" width="28.8" height="28.8" rx="2" fill="#cfcfd1" stroke="#2a2a2c" stroke-width="1.8"/>
<rect x="490.8" y="1261.5" width="19" height="19" fill="#7d7d81"/>
<text x="427.5" y="1299" class="s">OPEN</text><text x="500" y="1299" class="s">OPEN</text>
<use href="#rot" x="427.5" y="1320.6"/><use href="#rot" x="500" y="1320.6"/>
<text x="427.5" y="1349" class="s">CLOSE</text><text x="500" y="1349" class="s">CLOSE</text>
<text x="463.8" y="1371" class="l">DESCENT He</text>
<text x="427.5" y="1387" class="l">REG 1</text><text x="500" y="1387" class="l">REG 2</text>
<rect x="413.7" y="1391" width="28.8" height="28.8" rx="2" fill="#cfcfd1" stroke="#2a2a2c" stroke-width="1.8"/>
<rect x="418.5" y="1396" width="19" height="19" fill="#7d7d81"/>
<rect x="486" y="1391" width="28.8" height="28.8" rx="2" fill="#cfcfd1" stroke="#2a2a2c" stroke-width="1.8"/>
<rect x="490.8" y="1396" width="19" height="19" fill="url(#stripe)"/>
<text x="427.5" y="1435" class="s">OPEN</text><text x="500" y="1435" class="s">OPEN</text>
<use href="#rot" x="427.5" y="1456.8"/><use href="#rot" x="500" y="1456.8"/>
<text x="427.5" y="1485" class="s">CLOSE</text><text x="500" y="1485" class="s">CLOSE</text>

<text x="567.7" y="1312" class="l">PRPLNT QTY MON</text>
<text x="548" y="1321" class="s">DES 1</text>
<use href="#padU" x="548" y="1344"/>
<text x="568.5" y="1346" class="s" style="text-anchor:start">DES 2</text>
<text x="548" y="1371" class="s">OFF</text>
<rect x="577.6" y="1322.5" width="43.8" height="8" fill="#2a2a2c"/><text x="599.5" y="1329.3" class="tag">1185/1320</text>
<text x="635" y="1325" class="l" style="font-size:9px">DES</text>
<text x="733" y="1325" class="l" style="font-size:9px">ASC</text>
<text x="689" y="1313" class="l">HELIUM MON</text>
<path d="M645,1321 L680,1321 Q683,1321 684.5,1325 Q686,1321 689,1321 L722,1321 M744,1321 L770,1321 Q774,1321 774,1325 L774,1352" fill="none" stroke="#2a2a2c" stroke-width="1.5"/>
<text x="637.7" y="1336" class="s" style="font-size:6.8px">SUPCRIT PRESS</text>
<text x="654" y="1347" class="s" style="font-size:6.8px">AMB</text>
<text x="650" y="1354" class="s" style="font-size:6.8px">PRESS</text>
<rect x="589" y="1355" width="38.7" height="7.5" fill="#2a2a2c"/><text x="608.3" y="1361.3" class="tag">200/1110</text>
<text x="627.7" y="1369" class="s" style="font-size:6.8px">OFF</text>
<circle cx="684" cy="1379" r="42.5" fill="#a4a4a8" stroke="#2a2a2c" stroke-width="2"/>
<path d="M652.8,1352.8 L662.8,1348.5 L696.6,1364.8 L720.4,1397.5 L704,1414.8 L671.6,1394.3 L650,1356 Z" fill="#8e8e92" stroke="#2a2a2c" stroke-width="1.8" stroke-linejoin="round"/>
<path d="M657,1356 L661,1353 L676,1370 L672,1373 Z" fill="none" stroke="#2a2a2c" stroke-width="1.3"/>
<circle cx="683" cy="1380" r="4" fill="#c8c8ca" stroke="#2a2a2c" stroke-width="1.3"/>
<path d="M728,1369 L732,1367 M728,1392 L732,1392 M638,1367 L642,1369 M664,1344 L667,1349 M676,1333 L677,1338" stroke="#2a2a2c" stroke-width="1"/>
<text x="733" y="1369.5" class="s" style="text-anchor:start;font-size:6.8px">PRESS 1</text>
<rect x="732.6" y="1374" width="46.2" height="7.5" fill="#2a2a2c"/><text x="755.7" y="1380.3" class="tag">2700/3450</text>
<text x="733" y="1393.5" class="s" style="text-anchor:start;font-size:6.8px">PRESS 2</text>

<text x="581.5" y="1405" class="l" style="font-size:9.5px">PRPLNT</text>
<text x="581.5" y="1414.5" class="l" style="font-size:9.5px">TEMP/PRESS MON</text>
<text x="590" y="1423" class="s" style="text-anchor:end">ASC</text>
<rect x="596" y="1417" width="33" height="7.5" fill="#2a2a2c"/><text x="612.5" y="1423.3" class="tag">172/203</text>
<use href="#padD" x="581.5" y="1446.6"/>
<text x="601.5" y="1449" class="s" style="text-anchor:start">DES 1</text>
<text x="581.5" y="1476.5" class="s">DES 2</text>
<rect x="598" y="1470.5" width="36" height="7.5" fill="#2a2a2c"/><text x="616" y="1476.8" class="tag">200/250</text>
</svg>
</body></html>
